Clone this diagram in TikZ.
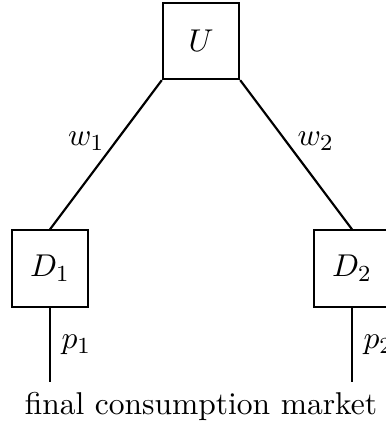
\documentclass[tikz,border=0pt,11pt]{standalone}
\usetikzlibrary{positioning}
\tikzset{
  firm/.style={draw,line width=0.75pt,minimum size=0.93cm,inner sep=0pt},
  link/.style={line width=0.75pt}
}
\begin{document}
\begin{tikzpicture}[x=0.0122cm,y=-0.0122cm]
    \useasboundingbox (0,0) rectangle (386,427);
    \node[firm] (U) at (201,41) {$U$};
    \node[firm] (D1) at (50,268.5) {$D_1$};
    \node[firm] (D2) at (352,268.5) {$D_2$};
    
    \draw[link] (U.south west) -- node[pos=0.41,left] {$w_1$} (D1.north);
    \draw[link] (U.south east) -- node[pos=0.41,right] {$w_2$} (D2.north);
    
    \coordinate (m1) at (50,382);
    \coordinate (m2) at (352,382);
    \draw[link] (D1.south) -- node[right] {$p_1$} (m1);
    \draw[link] (D2.south) -- node[right] {$p_2$} (m2);
    
    \node (mkt) at (201,406) {final consumption market};
\end{tikzpicture}
\end{document}
